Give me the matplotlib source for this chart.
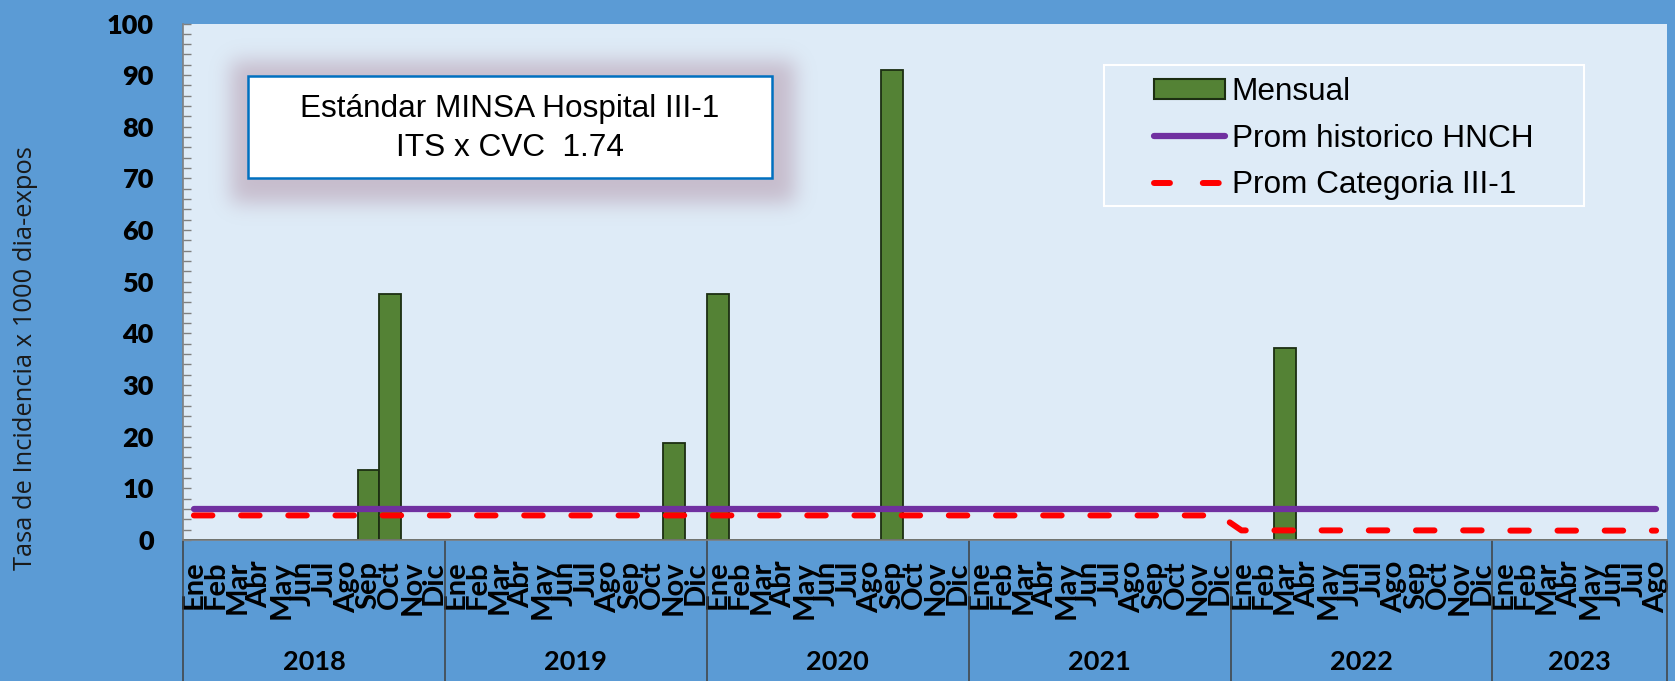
import matplotlib.pyplot as plt
import numpy as np
from matplotlib.lines import Line2D
from matplotlib.patches import Patch, Rectangle

# ── Data ─────────────────────────────────────────────────────────────────────
MONTHS = ["Ene", "Feb", "Mar", "Abr", "May", "Jun",
          "Jul", "Ago", "Sep", "Oct", "Nov", "Dic"]
YEARS = ["2018", "2019", "2020", "2021", "2022", "2023"]
MONTHS_PER_YEAR = [12, 12, 12, 12, 12, 8]

# Tasa mensual (one row per year)
mensual = [
    0, 0, 0, 0, 0, 0, 0, 0, 13.6, 47.7, 0, 0,        # 2018
    0, 0, 0, 0, 0, 0, 0, 0, 0, 0, 18.8, 0,           # 2019
    47.7, 0, 0, 0, 0, 0, 0, 0, 91.0, 0, 0, 0,        # 2020
    0, 0, 0, 0, 0, 0, 0, 0, 0, 0, 0, 0,              # 2021
    0, 0, 37.1, 0, 0, 0, 0, 0, 0, 0, 0, 0,           # 2022
    0, 0, 0, 0, 0, 0, 0, 0,                          # 2023
]
prom_hnch = [
    6.0, 6.0, 6.0, 6.0, 6.0, 6.0, 6.0, 6.0, 6.0, 6.0, 6.0, 6.0,
    6.0, 6.0, 6.0, 6.0, 6.0, 6.0, 6.0, 6.0, 6.0, 6.0, 6.0, 6.0,
    6.0, 6.0, 6.0, 6.0, 6.0, 6.0, 6.0, 6.0, 6.0, 6.0, 6.0, 6.0,
    6.0, 6.0, 6.0, 6.0, 6.0, 6.0, 6.0, 6.0, 6.0, 6.0, 6.0, 6.0,
    6.0, 6.0, 6.0, 6.0, 6.0, 6.0, 6.0, 6.0, 6.0, 6.0, 6.0, 6.0,
    6.0, 6.0, 6.0, 6.0, 6.0, 6.0, 6.0, 6.0,
]
prom_categoria = [
    4.76, 4.76, 4.76, 4.76, 4.76, 4.76, 4.76, 4.76, 4.76, 4.76, 4.76, 4.76,
    4.76, 4.76, 4.76, 4.76, 4.76, 4.76, 4.76, 4.76, 4.76, 4.76, 4.76, 4.76,
    4.76, 4.76, 4.76, 4.76, 4.76, 4.76, 4.76, 4.76, 4.76, 4.76, 4.76, 4.76,
    4.76, 4.76, 4.76, 4.76, 4.76, 4.76, 4.76, 4.76, 4.76, 4.76, 4.76, 4.76,
    1.86, 1.86, 1.86, 1.86, 1.86, 1.86, 1.86, 1.86, 1.86, 1.86, 1.86, 1.86,
    1.82, 1.82, 1.82, 1.82, 1.82, 1.82, 1.82, 1.82,
]
STD_LINES = ["Estándar MINSA Hospital III-1", "ITS x CVC  1.74"]

month_labels = []
for n in MONTHS_PER_YEAR:
    month_labels += MONTHS[:n]
x = np.arange(len(month_labels))

# ── Style ────────────────────────────────────────────────────────────────────
W_PX, H_PX = 1675, 681
FIG_BG = "#5B9BD5"
PLOT_BG = "#DEEBF7"
BAR_C = "#548235"
BAR_EDGE = "#1C2E12"
PURPLE = "#7030A0"
RED = "#FF0000"
BOLD = dict(family="Lato", weight="bold", color="black")

fig = plt.figure(figsize=(W_PX / 100, H_PX / 100), dpi=100, facecolor=FIG_BG)

left, right, top, bottom = 183, 1667, 23.5, 540
ax = fig.add_axes([left / W_PX, 1 - bottom / H_PX,
                   (right - left) / W_PX, (bottom - top) / H_PX])
ax.set_facecolor(PLOT_BG)

ax.bar(x, mensual, width=1.0, color=BAR_C, edgecolor=BAR_EDGE,
       linewidth=1.3, zorder=2)
ax.plot(x, prom_hnch, color=PURPLE, lw=4.5, solid_capstyle="round", zorder=3)
ax.plot(x, prom_categoria, color=RED, lw=4.3, dash_capstyle="round",
        linestyle=(0, (3.1, 4.8)), zorder=3)

ax.set_xlim(-0.5, len(x) - 0.5)
ax.set_ylim(0, 100)
ax.set_yticks(np.arange(0, 101, 10))
ax.set_yticks(np.arange(0, 101, 2), minor=True)
ax.tick_params(axis="y", which="both", direction="in", length=5.5,
               width=1, color="#808080", pad=21)
ax.tick_params(axis="y", which="major", labelsize=19.5)
for lab in ax.get_yticklabels():
    lab.set_fontfamily("Lato")
    lab.set_fontweight("heavy")

ax.set_xticks(x)
ax.set_xticklabels(month_labels, rotation=90, fontsize=21, **BOLD)
ax.tick_params(axis="x", length=0, pad=15)

for s in ["top", "right"]:
    ax.spines[s].set_visible(False)
for s in ["left", "bottom"]:
    ax.spines[s].set_color("#7F7F7F")
    ax.spines[s].set_linewidth(1.2)

# year grouping under the month labels
trans = ax.get_xaxis_transform()
bounds = np.concatenate([[0], np.cumsum(MONTHS_PER_YEAR)]) - 0.5
for b in bounds:
    ax.plot([b, b], [0, -0.3], transform=trans, color="#404040",
            lw=1.1, clip_on=False)
for yr, b0, b1 in zip(YEARS, bounds[:-1], bounds[1:]):
    ax.text((b0 + b1) / 2, -0.236, yr, transform=trans, ha="center",
            va="center", fontsize=19.5, **BOLD)

fig.text(26 / W_PX, 1 - 358 / H_PX, "Tasa de Incidencia x 1000 dia-expos",
         rotation=90, ha="center", va="center", fontsize=18.4,
         family="Open Sans", color="#1A1A1A")

# ── Overlay in pixel coordinates: standard box + legend frame ────────────────
ov = fig.add_axes([0, 0, 1, 1], zorder=5)
ov.set_xlim(0, W_PX)
ov.set_ylim(H_PX, 0)
ov.axis("off")
ov.patch.set_alpha(0)

bx0, by0, bx1, by1 = 248, 76, 772, 178

# soft shadow: blurred rectangle mask
pad, grow, dx, dy = 110, 20, 3, 5
sx0, sy0 = bx0 - pad, by0 - pad
sw, sh = (bx1 - bx0) + 2 * pad, (by1 - by0) + 2 * pad
mask = np.zeros((sh, sw))
mask[pad - grow + dy:pad + (by1 - by0) + grow + dy,
     pad - grow + dx:pad + (bx1 - bx0) + grow + dx] = 1
k = np.exp(-0.5 * (np.arange(-45, 46) / 10.0) ** 2)
k /= k.sum()
mask = np.apply_along_axis(lambda r: np.convolve(r, k, mode="same"), 1, mask)
mask = np.apply_along_axis(lambda c: np.convolve(c, k, mode="same"), 0, mask)
shadow = np.zeros((sh, sw, 4))
shadow[..., 0] = 160 / 255
shadow[..., 1] = 112 / 255
shadow[..., 2] = 135 / 255
shadow[..., 3] = 0.38 * mask
ov.imshow(shadow, extent=(sx0, sx0 + sw, sy0 + sh, sy0), aspect="auto",
          interpolation="bilinear", zorder=1)

ov.add_patch(Rectangle((bx0, by0), bx1 - bx0, by1 - by0, facecolor="white",
                       edgecolor="#0070C0", lw=1.8, zorder=2))
ov.text((bx0 + bx1) / 2, 117.3, STD_LINES[0], ha="center", va="baseline",
        fontsize=22.7, family="Liberation Sans", zorder=3)
ov.text((bx0 + bx1) / 2, 156, STD_LINES[1], ha="center", va="baseline",
        fontsize=22.7, family="Liberation Sans", zorder=3)

ov.add_patch(Rectangle((1104, 65), 1584 - 1104, 206 - 65, facecolor="none",
                       edgecolor="white", lw=1.5, zorder=2))

handles = [
    Patch(facecolor=BAR_C, edgecolor=BAR_EDGE, linewidth=1.5),
    Line2D([], [], color=PURPLE, lw=4.5, solid_capstyle="round"),
    Line2D([], [], color=RED, lw=4.3, dash_capstyle="round",
           linestyle=(0, (2.67, 5.5))),
]
labels = ["Mensual", "Prom historico HNCH", "Prom Categoria III-1"]
leg = ax.legend(handles, labels, loc="upper left",
                bbox_to_anchor=(1154 / W_PX, 1 - 77.5 / H_PX),
                bbox_transform=fig.transFigure, frameon=False,
                prop=dict(family="Liberation Sans", size=22.7),
                borderpad=0, borderaxespad=0, handlelength=2.25,
                handleheight=0.6, handletextpad=0.22, labelspacing=0.52)
leg.set_zorder(6)

fig.savefig("out.png", dpi=100, facecolor=FIG_BG)
